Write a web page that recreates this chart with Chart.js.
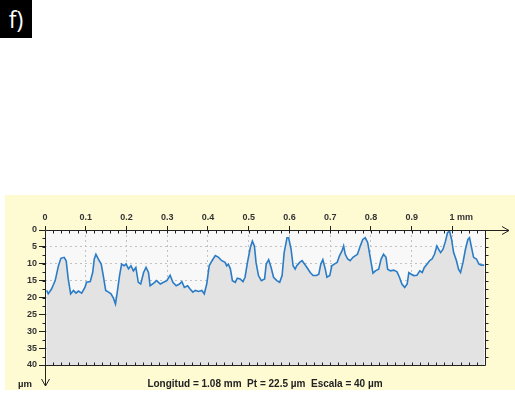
<!DOCTYPE html>
<html>
<head>
<meta charset="utf-8">
<script src="https://cdn.jsdelivr.net/npm/chart.js@4"></script>
<style>
  body { margin: 0; background: #fff; }
  #wrap { position: relative; width: 515px; height: 402px; }
  #tag {
    position: absolute; left: 0; top: 0; width: 32px; height: 38px;
    background: #000; color: #fff; font: 23px "Open Sans", sans-serif;
    line-height: 38px; text-align: center;
  }
  .lbl { position: absolute; font: bold 10px "Liberation Sans", Arial, sans-serif; color: #222; white-space: pre; }
  #unit { left: 18px; top: 378px; font-size: 9.5px; }
  #caption { left: 45px; top: 378px; width: 440px; text-align: center; }
</style>
</head>
<body>
<div id="wrap">
  <canvas id="profileChart" width="515" height="402"></canvas>
  <div id="tag">f)</div>
  <div id="unit" class="lbl">µm</div>
  <div id="caption" class="lbl">Longitud = 1.08 mm  Pt = 22.5 µm  Escala = 40 µm</div>
</div>
<script>
// Posicion a lo largo del perfil (mm)
const profileX = [
  0.004, 0.008, 0.016, 0.025, 0.033, 0.039, 0.047, 0.052, 0.057, 0.063,
  0.070, 0.076, 0.082, 0.090, 0.098, 0.102, 0.111, 0.117, 0.121, 0.125,
  0.131, 0.138, 0.143, 0.149, 0.156, 0.162, 0.168, 0.173, 0.178, 0.183,
  0.188, 0.194, 0.199, 0.205, 0.211, 0.217, 0.223, 0.229, 0.235, 0.242,
  0.248, 0.254, 0.258, 0.266, 0.274, 0.283, 0.291, 0.299, 0.307, 0.314,
  0.322, 0.330, 0.336, 0.342, 0.350, 0.356, 0.363, 0.369, 0.377, 0.385,
  0.391, 0.397, 0.403, 0.410, 0.418, 0.426, 0.434, 0.442, 0.446, 0.450,
  0.455, 0.460, 0.467, 0.472, 0.479, 0.486, 0.491, 0.497, 0.504, 0.509,
  0.514, 0.518, 0.524, 0.531, 0.539, 0.543, 0.549, 0.555, 0.561, 0.569,
  0.576, 0.582, 0.587, 0.594, 0.598, 0.604, 0.609, 0.614, 0.618, 0.625,
  0.631, 0.637, 0.643, 0.651, 0.658, 0.666, 0.672, 0.677, 0.682, 0.688,
  0.692, 0.699, 0.704, 0.710, 0.717, 0.723, 0.729, 0.733, 0.737, 0.743,
  0.749, 0.756, 0.762, 0.767, 0.774, 0.780, 0.786, 0.792, 0.799, 0.805,
  0.811, 0.819, 0.825, 0.831, 0.837, 0.841, 0.848, 0.856, 0.864, 0.870,
  0.876, 0.883, 0.889, 0.893, 0.899, 0.905, 0.913, 0.920, 0.926, 0.931,
  0.938, 0.944, 0.950, 0.956, 0.962, 0.966, 0.971, 0.977, 0.983, 0.988,
  0.993, 0.998, 1.003, 1.010, 1.015, 1.020, 1.026, 1.032, 1.038, 1.042,
  1.047, 1.052, 1.059, 1.065, 1.071, 1.078
];
// Profundidad (µm), 0 arriba
const profileY = [
  17.9, 18.9, 17.5, 15.0, 10.6, 8.4, 8.1, 9.1, 14.5, 18.9,
  17.9, 18.7, 18.1, 18.7, 17.0, 15.5, 15.3, 12.6, 8.6, 7.2,
  8.6, 10.1, 13.5, 17.9, 18.4, 18.9, 20.2, 21.9, 17.9, 13.5,
  10.1, 10.6, 10.1, 11.5, 10.6, 12.1, 11.1, 15.5, 16.0, 12.6,
  11.1, 12.6, 16.5, 15.8, 15.0, 16.0, 15.5, 15.0, 13.4, 15.5,
  16.5, 16.0, 15.3, 17.0, 16.5, 17.5, 18.4, 17.9, 18.2, 17.9,
  18.9, 16.0, 10.6, 9.1, 7.6, 8.1, 9.1, 9.6, 10.6, 10.1,
  11.5, 15.0, 15.5, 14.3, 14.5, 15.3, 14.0, 9.6, 5.2, 3.3,
  4.7, 9.6, 13.5, 15.0, 14.5, 10.1, 8.8, 11.1, 14.0, 15.0,
  15.5, 13.5, 6.7, 2.3, 2.3, 5.7, 10.6, 11.6, 10.6, 9.6,
  9.1, 10.1, 11.1, 12.6, 13.5, 13.5, 13.1, 10.1, 8.8, 11.6,
  14.0, 13.5, 10.6, 10.1, 9.6, 7.6, 6.2, 4.7, 7.2, 8.6,
  9.1, 8.1, 7.6, 7.2, 4.7, 2.8, 2.3, 3.7, 8.6, 12.8,
  12.1, 11.6, 8.6, 7.2, 8.1, 11.6, 12.1, 11.9, 12.4, 14.0,
  16.0, 17.0, 16.0, 12.6, 13.1, 13.5, 13.4, 12.1, 12.6, 11.1,
  10.1, 9.1, 8.6, 7.2, 4.7, 5.7, 6.7, 5.7, 3.3, 0.8,
  0.3, 2.8, 6.7, 9.1, 11.6, 12.6, 9.6, 5.7, 2.8, 2.3,
  5.2, 8.1, 8.6, 10.1, 10.4, 10.4
];

// Marcas de los ejes
const xTickValues = [0, 0.1, 0.2, 0.3, 0.4, 0.5, 0.6, 0.7, 0.8, 0.9, 1];
const xTickLabels = ["0", "0.1", "0.2", "0.3", "0.4", "0.5", "0.6", "0.7", "0.8", "0.9", "1 mm"];
const yTickValues = [0, 5, 10, 15, 20, 25, 30, 35, 40];
const xMinorStep = 0.02;
const yMinorStep = 2.5;

// Fondo amarillo y zona del grafico
const backgroundPlugin = {
    id: "background",
    beforeDraw(chart) {
        const ctx = chart.ctx;
        const a = chart.chartArea;
        ctx.save();
        ctx.fillStyle = "#fefbd3";
        ctx.fillRect(5, 195, 510, 195);
        ctx.fillStyle = "#f8f8f8";
        ctx.fillRect(a.left, a.top, a.right - a.left, a.bottom - a.top);
        ctx.restore();
    }
};

// Ejes con flechas y marcas menores
const axesPlugin = {
    id: "axes",
    afterDatasetsDraw(chart) {
        const ctx = chart.ctx;
        const a = chart.chartArea;
        const xs = chart.scales.x;
        const ys = chart.scales.y;
        const L = Math.round(a.left) + 0.5, R = Math.round(a.right) + 0.5;
        const T = Math.round(a.top) + 0.5, B = Math.round(a.bottom) + 0.5;
        ctx.save();
        ctx.strokeStyle = "#222";
        ctx.lineWidth = 1;
        ctx.beginPath();
        // eje x superior con flecha
        ctx.moveTo(L, T); ctx.lineTo(509, T);
        ctx.moveTo(502, T - 4); ctx.lineTo(509, T); ctx.lineTo(502, T + 4);
        // eje y con flecha
        ctx.moveTo(L, T); ctx.lineTo(L, 386);
        ctx.moveTo(L - 4, 379); ctx.lineTo(L, 386); ctx.lineTo(L + 4, 379);
        // bordes
        ctx.moveTo(R, T); ctx.lineTo(R, B);
        ctx.moveTo(L, B); ctx.lineTo(R, B);
        // marcas menores en x
        for (let v = xMinorStep; v < xs.max; v += xMinorStep) {
            const px = Math.round(xs.getPixelForValue(v)) + 0.5;
            ctx.moveTo(px, T); ctx.lineTo(px, T + 3);
            ctx.moveTo(px, B); ctx.lineTo(px, B - 3);
        }
        // marcas menores en y
        for (let v = yMinorStep; v < ys.max; v += yMinorStep) {
            const py = Math.round(ys.getPixelForValue(v)) + 0.5;
            ctx.moveTo(L - 3, py); ctx.lineTo(L, py);
            ctx.moveTo(R, py); ctx.lineTo(R + 3, py);
        }
        ctx.stroke();
        ctx.restore();
    }
};

const tickFont = { family: "'Liberation Sans', Arial, sans-serif", size: 9, weight: "bold" };

const ctx = document.getElementById("profileChart").getContext("2d");
new Chart(ctx, {
    type: "line",
    data: {
        datasets: [{
            data: profileX.map((x, i) => ({ x: x, y: profileY[i] })),
            borderColor: "#2a7cc7",
            borderWidth: 1.6,
            backgroundColor: "#e3e3e3",
            fill: { value: 40 },
            pointRadius: 0,
            tension: 0
        }]
    },
    options: {
        responsive: false,
        animation: false,
        devicePixelRatio: 1,
        layout: { padding: { left: 0, top: 0, right: 30, bottom: 37 } },
        plugins: {
            legend: { display: false },
            tooltip: { enabled: false }
        },
        scales: {
            x: {
                type: "linear",
                position: "top",
                min: 0,
                max: 1.08,
                afterBuildTicks: s => { s.ticks = xTickValues.map(v => ({ value: v })); },
                afterFit: s => { s.height = 230; },
                ticks: {
                    autoSkip: false,
                    maxRotation: 0,
                    padding: 3,
                    color: "#333",
                    font: tickFont,
                    callback: (v, i) => (i === xTickLabels.length - 1 ? "       " : "") + xTickLabels[i]
                },
                grid: {
                    color: "#c2c2c2",
                    tickColor: "#222",
                    tickBorderDash: [],
                    tickLength: 4
                },
                border: { display: false, dash: [2, 3] }
            },
            y: {
                type: "linear",
                reverse: true,
                min: 0,
                max: 40,
                afterBuildTicks: s => { s.ticks = yTickValues.map(v => ({ value: v })); },
                afterFit: s => { s.width = 45; },
                ticks: {
                    padding: 2,
                    color: "#333",
                    font: tickFont
                },
                grid: {
                    color: "#c2c2c2",
                    tickColor: "#222",
                    tickBorderDash: [],
                    tickLength: 6
                },
                border: { display: false, dash: [2, 3] }
            }
        }
    },
    plugins: [backgroundPlugin, axesPlugin]
});
</script>
</body>
</html>
